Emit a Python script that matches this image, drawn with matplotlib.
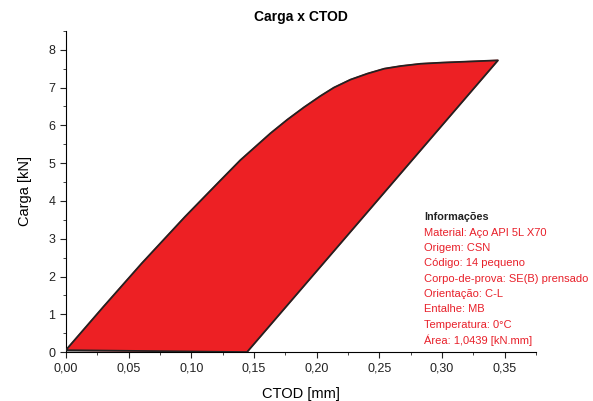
import matplotlib
matplotlib.use("Agg")
import matplotlib.pyplot as plt
import numpy as np

plt.rcParams["font.family"] = ["Liberation Sans", "DejaVu Sans"]

# curva de carga (CTOD [mm], carga [kN])
ctod_carga = [0.0, 0.03, 0.0606, 0.095, 0.1232, 0.1392, 0.1632, 0.1766, 0.19,
              0.2032, 0.2138, 0.227, 0.2406, 0.254, 0.2672, 0.283, 0.30, 0.3446]
carga_carga = [0.05, 1.2, 2.35, 3.58, 4.54, 5.08, 5.79, 6.15, 6.48,
               6.78, 7.0, 7.21, 7.37, 7.5, 7.57, 7.63, 7.66, 7.72]
# descarga
ctod_descarga = [0.3446, 0.1445]
carga_descarga = [7.72, 0.0]

info_titulo = "Informações"
info_linhas = [
    "Material: Aço API 5L X70",
    "Origem: CSN",
    "Código: 14 pequeno",
    "Corpo-de-prova: SE(B) prensado",
    "Orientação: C-L",
    "Entalhe: MB",
    "Temperatura: 0°C",
    "Área: 1,0439 [kN.mm]",
]

fig = plt.figure(figsize=(5.93, 4.01), dpi=100)
ax = fig.add_axes([0.111, 0.122, 0.793, 0.801])

xs = np.concatenate([ctod_carga, ctod_descarga[1:], [ctod_carga[0]]])
ys = np.concatenate([carga_carga, carga_descarga[1:], [carga_carga[0]]])
ax.fill(xs, ys, color="#ed2024", zorder=2)
ax.plot(xs, ys, color="#222222", lw=1.3, zorder=3, solid_joinstyle="round")
ax.plot([0, ctod_descarga[1]], [0.02, 0.02], color="#aaaaaa", lw=1, zorder=1)

ax.set_xlim(0, 0.375)
ax.set_ylim(0, 8.5)
ax.set_xticks(np.arange(0, 0.36, 0.05))
ax.set_xticklabels([f"{v:.2f}".replace(".", ",") for v in np.arange(0, 0.36, 0.05)])
ax.set_xticks(np.arange(0, 0.376, 0.025), minor=True)
ax.set_yticks(range(0, 9))
ax.set_yticks(np.arange(0, 8.6, 0.5), minor=True)
ax.tick_params(which="major", direction="out", length=4, labelsize=9, colors="#222222")
ax.tick_params(which="minor", direction="out", length=2.5, colors="#222222")
for s in ["top", "right"]:
    ax.spines[s].set_visible(False)

ax.set_xlabel("CTOD [mm]", fontsize=10.5, labelpad=9)
ax.set_ylabel("Carga [kN]", fontsize=10.5, labelpad=12)
ax.set_title("Carga x CTOD", fontsize=10, fontweight="bold", pad=7)

fig.text(424 / 593, 1 - 217 / 401, info_titulo, fontsize=7.8, fontweight="bold",
         color="#222222", va="center")
for i, linha in enumerate(info_linhas):
    fig.text(424 / 593, 1 - (232.5 + i * 15.4) / 401, linha, fontsize=8,
             color="#e8202a", va="center")

fig.savefig("out.png", dpi=100)
